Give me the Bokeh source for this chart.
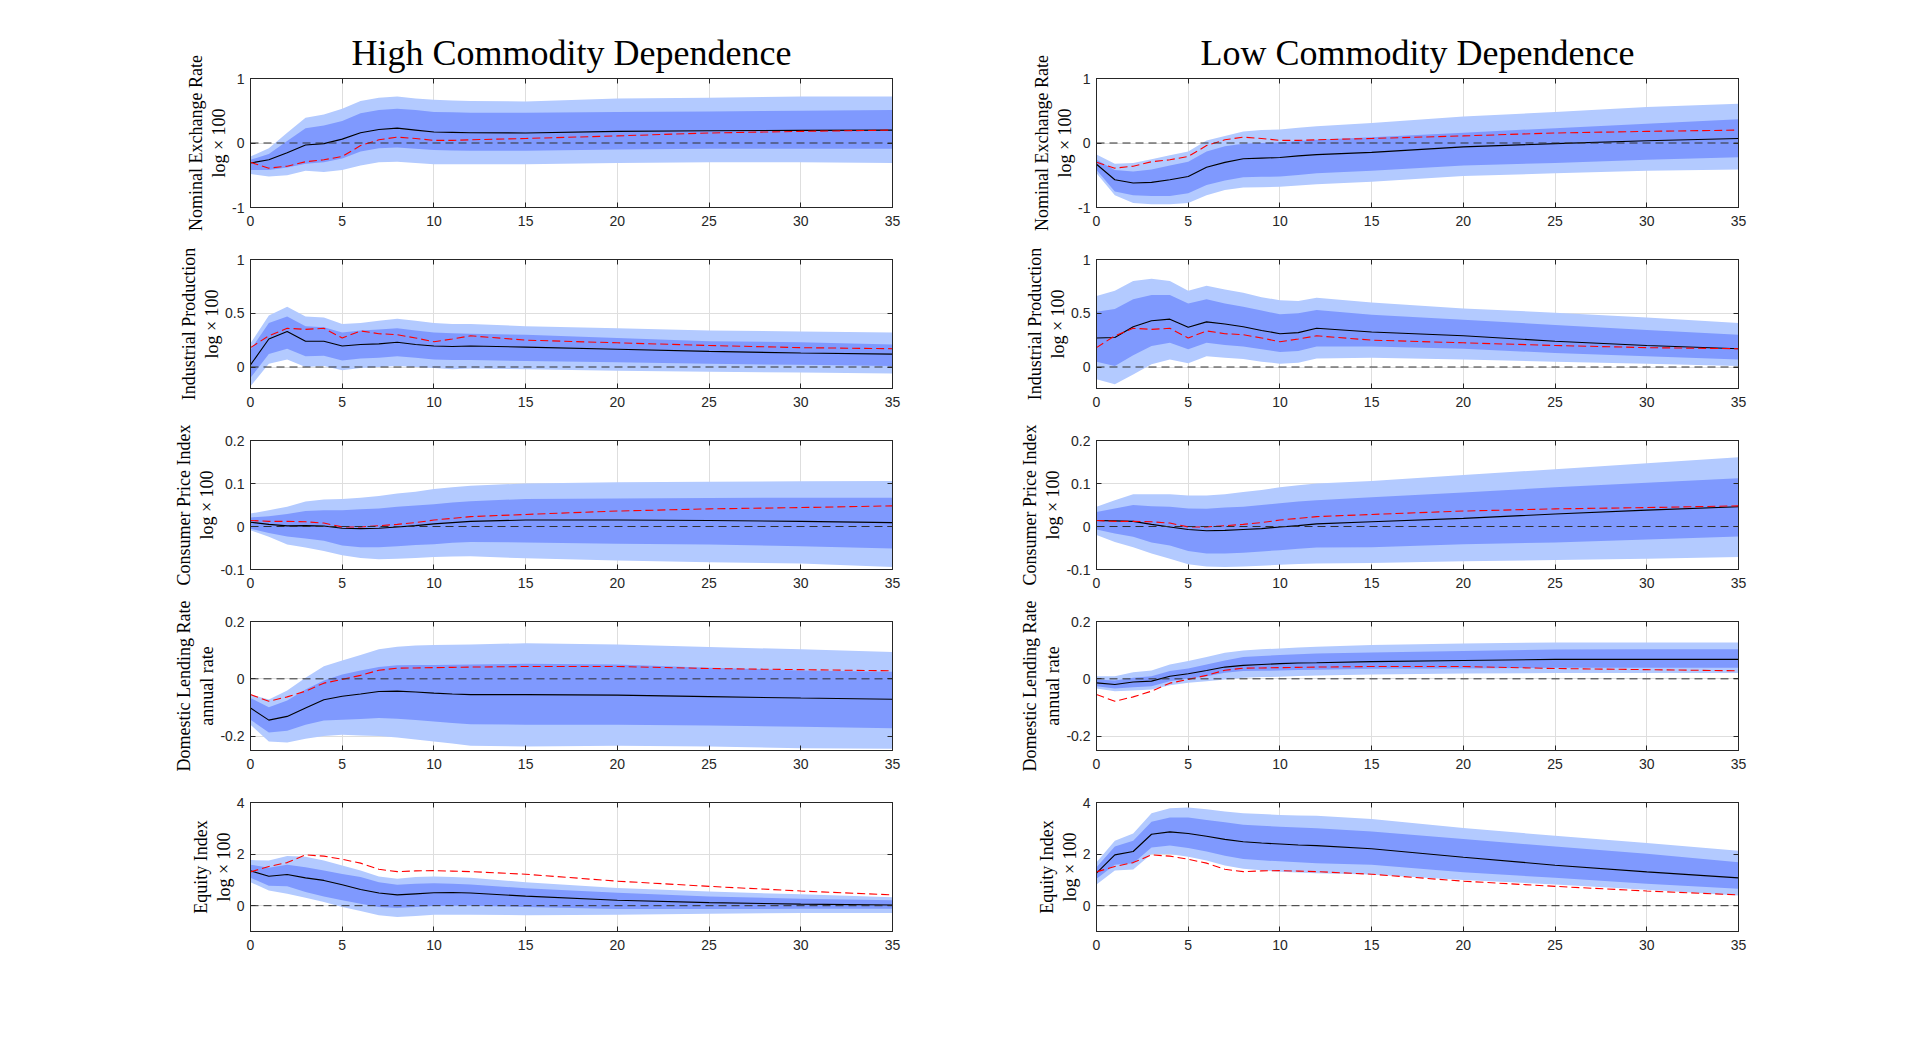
from bokeh.plotting import figure
from bokeh.models import FixedTicker, LinearAxis, Span
from bokeh.layouts import column, row
from bokeh.embed import file_html
from bokeh.resources import INLINE

# horizon (months)
X = [0, 1, 2, 3, 4, 5, 6, 7, 8, 9, 10, 11, 12, 15, 20, 25, 30, 35]

titles = ["High Commodity Dependence", "Low Commodity Dependence"]
ylabels = ["Nominal Exchange Rate\nlog × 100",
           "Industrial Production\nlog × 100",
           "Consumer Price Index\nlog × 100",
           "Domestic Lending Rate\nannual rate",
           "Equity Index\nlog × 100"]

# ---------------- Nominal exchange rate ----------------
ner_red = [-0.30, -0.39, -0.36, -0.29, -0.26, -0.21, -0.04, 0.05, 0.09, 0.07, 0.04, 0.04, 0.05, 0.07, 0.11, 0.155, 0.18, 0.20]
ner_hi_ou = [-0.21, -0.08, 0.16, 0.39, 0.44, 0.53, 0.65, 0.70, 0.72, 0.69, 0.67, 0.66, 0.65, 0.645, 0.69, 0.70, 0.72, 0.72]
ner_hi_iu = [-0.26, -0.17, 0.03, 0.23, 0.27, 0.34, 0.46, 0.51, 0.53, 0.51, 0.48, 0.475, 0.47, 0.47, 0.48, 0.49, 0.50, 0.51]
ner_hi_md = [-0.31, -0.26, -0.15, -0.03, -0.01, 0.06, 0.16, 0.21, 0.23, 0.20, 0.17, 0.165, 0.16, 0.155, 0.18, 0.19, 0.195, 0.20]
ner_hi_il = [-0.42, -0.42, -0.38, -0.32, -0.30, -0.24, -0.13, -0.08, -0.07, -0.09, -0.11, -0.115, -0.12, -0.12, -0.10, -0.09, -0.09, -0.09]
ner_hi_ol = [-0.48, -0.52, -0.50, -0.43, -0.45, -0.42, -0.35, -0.30, -0.29, -0.31, -0.33, -0.33, -0.33, -0.33, -0.31, -0.30, -0.30, -0.31]
ner_lo_ou = [-0.18, -0.32, -0.31, -0.25, -0.19, -0.13, 0.04, 0.11, 0.18, 0.20, 0.21, 0.235, 0.26, 0.31, 0.41, 0.48, 0.56, 0.61]
ner_lo_iu = [-0.26, -0.42, -0.44, -0.41, -0.35, -0.29, -0.13, -0.05, -0.01, 0.0, 0.01, 0.03, 0.05, 0.09, 0.16, 0.23, 0.30, 0.37]
ner_lo_md = [-0.33, -0.57, -0.62, -0.61, -0.57, -0.52, -0.375, -0.30, -0.245, -0.235, -0.225, -0.20, -0.18, -0.145, -0.06, -0.01, 0.035, 0.07]
ner_lo_il = [-0.42, -0.75, -0.81, -0.82, -0.82, -0.78, -0.65, -0.58, -0.53, -0.525, -0.52, -0.495, -0.47, -0.43, -0.35, -0.31, -0.26, -0.22]
ner_lo_ol = [-0.47, -0.81, -0.93, -0.95, -0.95, -0.93, -0.81, -0.73, -0.69, -0.685, -0.68, -0.66, -0.64, -0.60, -0.51, -0.47, -0.43, -0.41]

# ---------------- Industrial production ----------------
ip_red = [0.18, 0.29, 0.36, 0.35, 0.36, 0.27, 0.335, 0.31, 0.30, 0.27, 0.235, 0.26, 0.29, 0.25, 0.225, 0.20, 0.18, 0.17]
ip_hi_ou = [0.22, 0.48, 0.56, 0.47, 0.46, 0.40, 0.41, 0.43, 0.45, 0.43, 0.41, 0.40, 0.40, 0.38, 0.36, 0.34, 0.33, 0.32]
ip_hi_iu = [0.16, 0.41, 0.47, 0.38, 0.37, 0.32, 0.34, 0.35, 0.36, 0.34, 0.32, 0.315, 0.31, 0.30, 0.27, 0.24, 0.23, 0.21]
ip_hi_md = [0.02, 0.26, 0.33, 0.24, 0.24, 0.195, 0.21, 0.215, 0.23, 0.21, 0.195, 0.19, 0.195, 0.185, 0.165, 0.145, 0.13, 0.12]
ip_hi_il = [-0.10, 0.12, 0.17, 0.10, 0.105, 0.06, 0.08, 0.085, 0.10, 0.085, 0.07, 0.065, 0.065, 0.055, 0.045, 0.03, 0.02, 0.01]
ip_hi_ol = [-0.18, 0.03, 0.07, 0.0, 0.01, -0.03, -0.01, 0.0, 0.01, 0.0, -0.01, -0.02, -0.015, -0.02, -0.035, -0.045, -0.05, -0.06]
ip_lo_ou = [0.66, 0.71, 0.80, 0.82, 0.80, 0.71, 0.755, 0.72, 0.69, 0.65, 0.62, 0.615, 0.645, 0.60, 0.545, 0.505, 0.46, 0.41]
ip_lo_iu = [0.515, 0.54, 0.63, 0.67, 0.67, 0.59, 0.63, 0.59, 0.56, 0.525, 0.49, 0.50, 0.53, 0.485, 0.44, 0.39, 0.345, 0.30]
ip_lo_md = [0.27, 0.275, 0.375, 0.43, 0.445, 0.37, 0.42, 0.40, 0.375, 0.34, 0.31, 0.32, 0.36, 0.325, 0.29, 0.24, 0.20, 0.17]
ip_lo_il = [0.05, 0.01, 0.11, 0.195, 0.225, 0.165, 0.225, 0.205, 0.19, 0.165, 0.14, 0.15, 0.19, 0.19, 0.17, 0.13, 0.10, 0.07]
ip_lo_ol = [-0.115, -0.16, -0.07, 0.025, 0.07, 0.035, 0.10, 0.085, 0.075, 0.05, 0.03, 0.04, 0.08, 0.085, 0.07, 0.05, 0.03, 0.01]

# ---------------- Consumer price index ----------------
cpi_red = [0.014, 0.012, 0.012, 0.011, 0.008, -0.001, -0.001, 0.002, 0.005, 0.009, 0.015, 0.019, 0.023, 0.028, 0.036, 0.041, 0.044, 0.048]
cpi_hi_ou = [0.030, 0.038, 0.046, 0.058, 0.063, 0.064, 0.067, 0.071, 0.077, 0.081, 0.087, 0.091, 0.095, 0.100, 0.103, 0.104, 0.105, 0.106]
cpi_hi_iu = [0.021, 0.024, 0.029, 0.036, 0.038, 0.038, 0.040, 0.042, 0.046, 0.049, 0.052, 0.056, 0.059, 0.064, 0.065, 0.066, 0.067, 0.067]
cpi_hi_md = [0.010, 0.005, 0.0015, 0.002, 0.001, -0.004, -0.005, -0.004, -0.001, 0.002, 0.006, 0.009, 0.012, 0.015, 0.015, 0.014, 0.012, 0.009]
cpi_hi_il = [-0.005, -0.015, -0.023, -0.028, -0.033, -0.044, -0.048, -0.048, -0.046, -0.043, -0.041, -0.038, -0.036, -0.037, -0.040, -0.042, -0.046, -0.051]
cpi_hi_ol = [-0.009, -0.024, -0.042, -0.049, -0.057, -0.067, -0.073, -0.076, -0.075, -0.073, -0.071, -0.070, -0.069, -0.074, -0.079, -0.083, -0.086, -0.094]
cpi_lo_ou = [0.046, 0.061, 0.075, 0.075, 0.075, 0.072, 0.072, 0.075, 0.080, 0.085, 0.091, 0.096, 0.100, 0.106, 0.120, 0.133, 0.147, 0.161]
cpi_lo_iu = [0.034, 0.042, 0.050, 0.047, 0.046, 0.042, 0.041, 0.044, 0.046, 0.050, 0.054, 0.058, 0.061, 0.068, 0.079, 0.091, 0.102, 0.112]
cpi_lo_md = [0.014, 0.013, 0.012, 0.005, -0.001, -0.007, -0.010, -0.009, -0.007, -0.005, -0.001, 0.002, 0.006, 0.011, 0.019, 0.029, 0.038, 0.046]
cpi_lo_il = [-0.007, -0.016, -0.024, -0.037, -0.044, -0.057, -0.063, -0.063, -0.061, -0.058, -0.055, -0.052, -0.049, -0.048, -0.041, -0.037, -0.030, -0.023]
cpi_lo_ol = [-0.020, -0.036, -0.048, -0.063, -0.075, -0.088, -0.093, -0.094, -0.093, -0.091, -0.089, -0.087, -0.086, -0.085, -0.081, -0.078, -0.075, -0.071]

# ---------------- Domestic lending rate ----------------
dlr_red = [-0.055, -0.078, -0.063, -0.043, -0.015, -0.002, 0.012, 0.030, 0.037, 0.038, 0.039, 0.040, 0.041, 0.043, 0.043, 0.036, 0.032, 0.028]
dlr_hi_ou = [-0.055, -0.072, -0.041, 0.004, 0.044, 0.064, 0.083, 0.103, 0.112, 0.116, 0.118, 0.119, 0.120, 0.124, 0.120, 0.111, 0.103, 0.094]
dlr_hi_iu = [-0.067, -0.099, -0.076, -0.037, -0.006, 0.015, 0.029, 0.041, 0.047, 0.048, 0.048, 0.049, 0.050, 0.053, 0.050, 0.039, 0.029, 0.025]
dlr_hi_md = [-0.102, -0.144, -0.131, -0.102, -0.073, -0.061, -0.053, -0.044, -0.043, -0.046, -0.050, -0.053, -0.055, -0.055, -0.057, -0.062, -0.067, -0.071]
dlr_hi_il = [-0.143, -0.187, -0.181, -0.160, -0.145, -0.143, -0.140, -0.137, -0.139, -0.144, -0.149, -0.154, -0.158, -0.160, -0.160, -0.163, -0.167, -0.172]
dlr_hi_ol = [-0.160, -0.219, -0.222, -0.209, -0.199, -0.195, -0.198, -0.199, -0.205, -0.212, -0.219, -0.226, -0.233, -0.236, -0.233, -0.236, -0.242, -0.244]
dlr_lo_ou = [0.009, 0.009, 0.023, 0.029, 0.050, 0.062, 0.076, 0.091, 0.099, 0.103, 0.106, 0.109, 0.112, 0.118, 0.123, 0.127, 0.127, 0.127]
dlr_lo_iu = [-0.002, -0.006, 0.004, 0.009, 0.027, 0.036, 0.050, 0.064, 0.076, 0.080, 0.083, 0.086, 0.088, 0.092, 0.097, 0.102, 0.103, 0.103]
dlr_lo_md = [-0.014, -0.020, -0.011, -0.008, 0.009, 0.018, 0.029, 0.041, 0.047, 0.050, 0.053, 0.055, 0.056, 0.060, 0.064, 0.068, 0.068, 0.068]
dlr_lo_il = [-0.026, -0.034, -0.029, -0.026, -0.008, 0.001, 0.009, 0.021, 0.027, 0.028, 0.029, 0.031, 0.032, 0.035, 0.036, 0.039, 0.039, 0.039]
dlr_lo_ol = [-0.034, -0.043, -0.041, -0.037, -0.022, -0.014, -0.008, -0.002, 0.004, 0.006, 0.007, 0.010, 0.012, 0.015, 0.019, 0.020, 0.020, 0.020]

# ---------------- Equity index ----------------
eq_red = [1.31, 1.52, 1.67, 1.97, 1.92, 1.80, 1.65, 1.41, 1.32, 1.35, 1.36, 1.34, 1.32, 1.22, 0.95, 0.75, 0.57, 0.42]
eq_hi_ou = [1.77, 1.75, 1.93, 1.90, 1.75, 1.56, 1.36, 1.13, 1.04, 1.11, 1.13, 1.11, 1.08, 0.91, 0.69, 0.55, 0.44, 0.33]
eq_hi_iu = [1.59, 1.47, 1.59, 1.49, 1.36, 1.23, 1.11, 0.91, 0.81, 0.85, 0.87, 0.85, 0.82, 0.68, 0.50, 0.36, 0.27, 0.21]
eq_hi_md = [1.35, 1.14, 1.21, 1.08, 0.98, 0.81, 0.63, 0.49, 0.42, 0.46, 0.50, 0.51, 0.49, 0.37, 0.21, 0.12, 0.06, 0.03]
eq_hi_il = [1.08, 0.77, 0.75, 0.53, 0.36, 0.21, 0.08, -0.05, -0.09, -0.05, -0.01, 0.0, 0.0, -0.05, -0.13, -0.13, -0.12, -0.12]
eq_hi_ol = [0.91, 0.59, 0.46, 0.31, 0.14, -0.05, -0.21, -0.37, -0.44, -0.40, -0.35, -0.35, -0.35, -0.37, -0.35, -0.31, -0.28, -0.28]
eq_lo_ou = [1.68, 2.52, 2.80, 3.58, 3.78, 3.81, 3.74, 3.65, 3.58, 3.55, 3.52, 3.50, 3.49, 3.36, 3.01, 2.71, 2.43, 2.13]
eq_lo_iu = [1.49, 2.29, 2.52, 3.25, 3.42, 3.42, 3.32, 3.23, 3.14, 3.10, 3.06, 3.03, 3.00, 2.88, 2.59, 2.29, 2.01, 1.68]
eq_lo_md = [1.26, 1.97, 2.10, 2.77, 2.86, 2.80, 2.69, 2.57, 2.48, 2.43, 2.39, 2.35, 2.33, 2.21, 1.88, 1.57, 1.31, 1.08]
eq_lo_il = [1.04, 1.59, 1.65, 2.26, 2.33, 2.24, 2.10, 1.94, 1.81, 1.76, 1.72, 1.68, 1.65, 1.59, 1.30, 1.08, 0.85, 0.66]
eq_lo_ol = [0.82, 1.36, 1.40, 2.00, 2.00, 1.90, 1.75, 1.56, 1.43, 1.37, 1.32, 1.29, 1.26, 1.21, 1.00, 0.82, 0.62, 0.40]

# axis ranges and ticks per row
y_ranges = [(-1, 1), (-0.2, 1), (-0.1, 0.2), (-0.25, 0.2), (-1, 4)]
y_ticks = [[-1, 0, 1], [0, 0.5, 1], [-0.1, 0, 0.1, 0.2], [-0.2, 0, 0.2], [0, 2, 4]]
y_tick_labels = [["-1", "0", "1"], ["0", "0.5", "1"], ["-0.1", "0", "0.1", "0.2"],
                 ["-0.2", "0", "0.2"], ["0", "2", "4"]]
x_ticks = [0, 5, 10, 15, 20, 25, 30, 35]

panels = [
    [(ner_hi_ou, ner_hi_iu, ner_hi_md, ner_hi_il, ner_hi_ol, ner_red),
     (ner_lo_ou, ner_lo_iu, ner_lo_md, ner_lo_il, ner_lo_ol, ner_red)],
    [(ip_hi_ou, ip_hi_iu, ip_hi_md, ip_hi_il, ip_hi_ol, ip_red),
     (ip_lo_ou, ip_lo_iu, ip_lo_md, ip_lo_il, ip_lo_ol, ip_red)],
    [(cpi_hi_ou, cpi_hi_iu, cpi_hi_md, cpi_hi_il, cpi_hi_ol, cpi_red),
     (cpi_lo_ou, cpi_lo_iu, cpi_lo_md, cpi_lo_il, cpi_lo_ol, cpi_red)],
    [(dlr_hi_ou, dlr_hi_iu, dlr_hi_md, dlr_hi_il, dlr_hi_ol, dlr_red),
     (dlr_lo_ou, dlr_lo_iu, dlr_lo_md, dlr_lo_il, dlr_lo_ol, dlr_red)],
    [(eq_hi_ou, eq_hi_iu, eq_hi_md, eq_hi_il, eq_hi_ol, eq_red),
     (eq_lo_ou, eq_lo_iu, eq_lo_md, eq_lo_il, eq_lo_ol, eq_red)],
]

OUTER = "#b3caff"
INNER = "#7f99fe"
AX = "#262626"
GRID = "#dedede"
SERIF = "Liberation Serif"
SANS = "Liberation Sans"


def style_axis(ax, ticks, labels=None, show_labels=True, standoff=6):
    ax.ticker = FixedTicker(ticks=ticks)
    ax.major_tick_in = 5
    ax.major_tick_out = 0
    ax.minor_tick_line_color = None
    ax.axis_line_color = AX
    ax.major_tick_line_color = AX
    ax.major_label_text_font = SANS
    if show_labels:
        ax.major_label_text_color = AX
        ax.major_label_text_font_size = "14px"
        ax.major_label_standoff = standoff
        if labels is not None:
            ax.major_label_overrides = {t: l for t, l in zip(ticks, labels)}
    else:
        # box-style ticks only: labels are not drawn at all
        ax.major_label_text_color = None
        ax.major_label_text_font_size = "1px"
        ax.major_label_standoff = 0


def make_panel(r, c):
    top = 78 if r == 0 else 22
    left = 250 if c == 0 else 164
    right = 40 if c == 0 else 30
    p = figure(frame_width=642, frame_height=129, x_range=(0, 35),
               y_range=y_ranges[r], output_backend="svg", toolbar_location=None,
               min_border_left=left, min_border_right=right,
               min_border_top=top, min_border_bottom=30)
    p.background_fill_color = "white"
    p.border_fill_color = "white"
    p.outline_line_color = AX
    p.outline_line_width = 1

    ou, iu, md, il, ol, rd = panels[r][c]
    p.varea(x=X, y1=ol, y2=ou, fill_color=OUTER, fill_alpha=1.0)
    p.varea(x=X, y1=il, y2=iu, fill_color=INNER, fill_alpha=1.0)
    p.add_layout(Span(location=0, dimension="width", line_color="#303030",
                      line_width=1, line_dash="8 5"))
    p.line(X, md, line_color="black", line_width=1.1)
    p.line(X, rd, line_color="#ff0000", line_width=1.1, line_dash="8 4")

    style_axis(p.xaxis[0], x_ticks, [str(t) for t in x_ticks], standoff=8)
    style_axis(p.yaxis[0], y_ticks[r], y_tick_labels[r], standoff=6)
    p.yaxis[0].axis_label = ylabels[r]
    p.yaxis[0].axis_label_text_font = SERIF
    p.yaxis[0].axis_label_text_font_style = "normal"
    p.yaxis[0].axis_label_text_font_size = "18px"
    p.yaxis[0].axis_label_text_color = "black"
    p.yaxis[0].axis_label_standoff = 0
    p.yaxis[0].axis_label_text_line_height = 1.15

    ax_top = LinearAxis()
    style_axis(ax_top, x_ticks, show_labels=False)
    p.add_layout(ax_top, "above")
    ax_right = LinearAxis()
    style_axis(ax_right, y_ticks[r], show_labels=False)
    p.add_layout(ax_right, "right")

    p.xgrid.ticker = FixedTicker(ticks=x_ticks)
    p.ygrid.ticker = FixedTicker(ticks=y_ticks[r])
    p.xgrid.grid_line_color = GRID
    p.ygrid.grid_line_color = GRID

    if r == 0:
        p.title.text = titles[c]
        p.title.align = "center"
        p.title.text_font = SERIF
        p.title.text_font_style = "normal"
        p.title.text_font_size = "36px"
        p.title.text_color = "black"
        p.title.standoff = 11
    return p


rows = []
for r in range(5):
    rows.append(row(make_panel(r, 0), make_panel(r, 1)))
layout = column(*rows)

open("out.html", "w").write(file_html(layout, INLINE))
